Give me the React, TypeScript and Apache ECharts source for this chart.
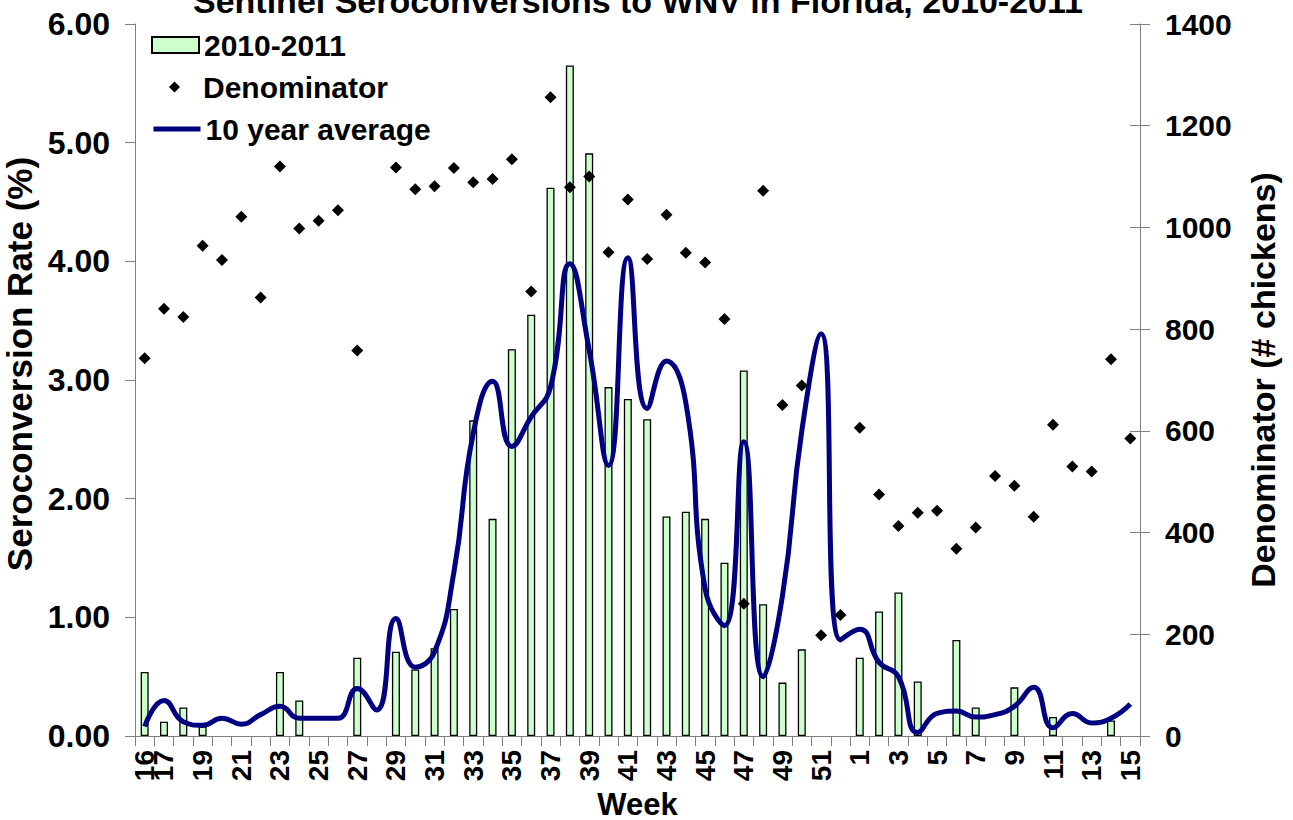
import React, { useEffect, useRef } from "react";
import * as echarts from "echarts";

const weeks = [
  "16", "17", "18", "19", "20", "21", "22", "23", "24", "25", "26", "27", "28", "29", "30", "31", "32", "33",
  "34", "35", "36", "37", "38", "39", "40", "41", "42", "43", "44", "45", "46", "47", "48", "49", "50", "51",
  "52", "1", "2", "3", "4", "5", "6", "7", "8", "9", "10", "11", "12", "13", "14", "15",
];

const seroRate2010 = [
  0.54, 0.12, 0.24, 0.08, null, null, null, 0.54, 0.3, null, null, 0.66, null, 0.71, 0.56, 0.74, 1.07, 2.66,
  1.83, 3.26, 3.55, 4.62, 5.65, 4.91, 2.94, 2.84, 2.67, 1.85, 1.89, 1.83, 1.46, 3.08, 1.11, 0.45, 0.73, null,
  null, 0.66, 1.05, 1.21, 0.46, null, 0.81, 0.24, null, 0.41, null, 0.16, null, null, 0.13, null,
];

const denominator = [
  743, 840, 824, 964, 936, 1021, 862, 1120, 998, 1013, 1034, 758, null, 1118, 1075, 1081, 1117, 1089,
  1095, 1134, 874, 1256, 1079, 1100, 951, 1055, 938, 1025, 950, 931, 820, 260, 1072, 651, 689, 198,
  238, 606, 475, 413, 439, 443, 368, 410, 511, 492, 431, 612, 530, 520, 741, 585,
];

const tenYearAverage = [
  0.08, 0.3, 0.12, 0.09, 0.15, 0.1, 0.18, 0.25, 0.15, 0.15, 0.15, 0.4, 0.22, 0.99, 0.58, 0.71, 1.38, 2.55,
  2.99, 2.44, 2.69, 2.94, 3.98, 3.25, 2.28, 4.03, 2.76, 3.16, 2.81, 1.24, 0.93, 2.48, 0.5, 1.18, 2.57, 3.39,
  0.81, 0.9, 0.62, 0.5, 0.03, 0.19, 0.21, 0.16, 0.18, 0.25, 0.41, 0.07, 0.19, 0.11, 0.15, 0.27,
];

const FONT = 'Arial, "Liberation Sans", sans-serif';
const AXIS_GRAY = "#808080";

export default function App() {
  const ref = useRef<HTMLDivElement>(null);

  useEffect(() => {
    if (!ref.current) return;
    const chart = echarts.init(ref.current, null, { renderer: "svg" });
    const legendText = { fontFamily: FONT, fontWeight: "bold", fontSize: 30, color: "#000" };
    const weekLabelStyle = {
      rotate: 90,
      margin: 14,
      fontFamily: FONT,
      fontWeight: "bold",
      fontSize: 28,
      color: "#000",
      hideOverlap: false,
    };
    chart.setOption({
      animation: false,
      backgroundColor: "#fff",
      title: {
        text: "Sentinel Seroconversions to WNV in Florida, 2010-2011",
        left: 193,
        top: -16,
        padding: 0,
        textStyle: { fontFamily: FONT, fontWeight: "bold", fontSize: 34, color: "#000" },
      },
      legend: [
        {
          orient: "vertical",
          left: 151,
          top: 30,
          padding: 0,
          itemWidth: 47,
          itemHeight: 16,
          data: [{ name: "2010-2011", icon: "rect" }],
          textStyle: legendText,
          selectedMode: false,
        },
        {
          orient: "vertical",
          left: 169,
          top: 72,
          padding: 0,
          itemWidth: 47,
          itemHeight: 11,
          symbolKeepAspect: true,
          data: [{ name: "Denominator", icon: "path://M5,0L10,5L5,10L0,5Z", itemStyle: { opacity: 1 } }],
          textStyle: legendText,
          selectedMode: false,
        },
        {
          orient: "vertical",
          left: 151,
          top: 114,
          padding: 0,
          itemWidth: 47,
          itemHeight: 16,
          data: [
            {
              name: "10 year average",
              itemStyle: { opacity: 0 },
              lineStyle: { width: 5, color: "#000080", opacity: 1 },
            },
          ],
          textStyle: legendText,
          selectedMode: false,
        },
      ],
      grid: { left: 135, right: 153, top: 24, bottom: 84, containLabel: false, outerBoundsMode: "none" },
      xAxis: [
        {
          type: "category",
          data: weeks,
          boundaryGap: true,
          position: "bottom",
          name: "Week",
          nameLocation: "middle",
          nameGap: 50,
          nameTextStyle: { fontFamily: FONT, fontWeight: "bold", fontSize: 31, lineHeight: 26, color: "#000" },
          axisLine: { show: true, lineStyle: { color: AXIS_GRAY, width: 1 } },
          axisTick: { show: true, interval: 0, length: 10, lineStyle: { color: AXIS_GRAY } },
          axisLabel: {
            ...weekLabelStyle,
            interval: (index: number) => index % 2 === 1,
          },
          splitLine: { show: false },
        },
        {
          type: "category",
          data: weeks,
          boundaryGap: true,
          position: "bottom",
          offset: 0,
          axisLine: { show: false },
          axisTick: { show: false },
          axisLabel: {
            ...weekLabelStyle,
            interval: (index: number) => index === 0,
            showMinLabel: true,
          },
          splitLine: { show: false },
        },
      ],
      yAxis: [
        {
          type: "value",
          position: "left",
          min: 0,
          max: 6,
          interval: 1,
          name: "Seroconversion Rate (%)",
          nameLocation: "middle",
          nameGap: 90,
          nameTextStyle: {
            fontFamily: FONT,
            fontWeight: "bold",
            fontSize: 35,
            color: "#000",
            padding: [0, 0, 0, 32],
          },
          axisLine: { show: true, lineStyle: { color: AXIS_GRAY, width: 1 } },
          axisTick: { show: true, length: 10, lineStyle: { color: AXIS_GRAY } },
          axisLabel: {
            formatter: (v: number) => v.toFixed(2),
            margin: 25,
            fontFamily: FONT,
            fontWeight: "bold",
            fontSize: 32,
            color: "#000",
          },
          splitLine: { show: false },
        },
        {
          type: "value",
          position: "right",
          min: 0,
          max: 1400,
          interval: 200,
          name: "Denominator (# chickens)",
          nameLocation: "middle",
          nameGap: 106,
          nameTextStyle: { fontFamily: FONT, fontWeight: "bold", fontSize: 34, color: "#000" },
          axisLine: { show: true, lineStyle: { color: AXIS_GRAY, width: 1 } },
          axisTick: { show: true, length: 10, lineStyle: { color: AXIS_GRAY } },
          axisLabel: {
            formatter: (v: number) => String(v),
            margin: 25,
            fontFamily: FONT,
            fontWeight: "bold",
            fontSize: 30,
            color: "#000",
          },
          splitLine: { show: false },
        },
        {
          type: "value",
          position: "right",
          min: 0,
          max: 1400,
          interval: 200,
          axisLine: { show: false },
          axisTick: { show: true, inside: true, length: 10, lineStyle: { color: AXIS_GRAY } },
          axisLabel: { show: false },
          splitLine: { show: false },
        },
      ],
      series: [
        {
          name: "2010-2011",
          type: "bar",
          xAxisIndex: 0,
          yAxisIndex: 0,
          data: seroRate2010,
          barWidth: 8,
          itemStyle: { color: "#CCFFCC", borderColor: "#000", borderWidth: 1.3 },
          z: 1,
        },
        {
          name: "Denominator",
          type: "scatter",
          xAxisIndex: 0,
          yAxisIndex: 1,
          data: denominator,
          symbol: "diamond",
          symbolSize: 12,
          itemStyle: { color: "#000", opacity: 1 },
          z: 3,
        },
        {
          name: "10 year average",
          type: "line",
          xAxisIndex: 0,
          yAxisIndex: 0,
          data: tenYearAverage,
          smooth: 0.5,
          showSymbol: false,
          symbol: "none",
          lineStyle: { color: "#000080", width: 5 },
          itemStyle: { color: "#000080" },
          z: 2,
        },
      ],
    });
    return () => chart.dispose();
  }, []);

  return (
    <div
      ref={ref}
      style={{ position: "fixed", left: 0, top: 0, width: 1293, height: 820, background: "#fff" }}
    />
  );
}
